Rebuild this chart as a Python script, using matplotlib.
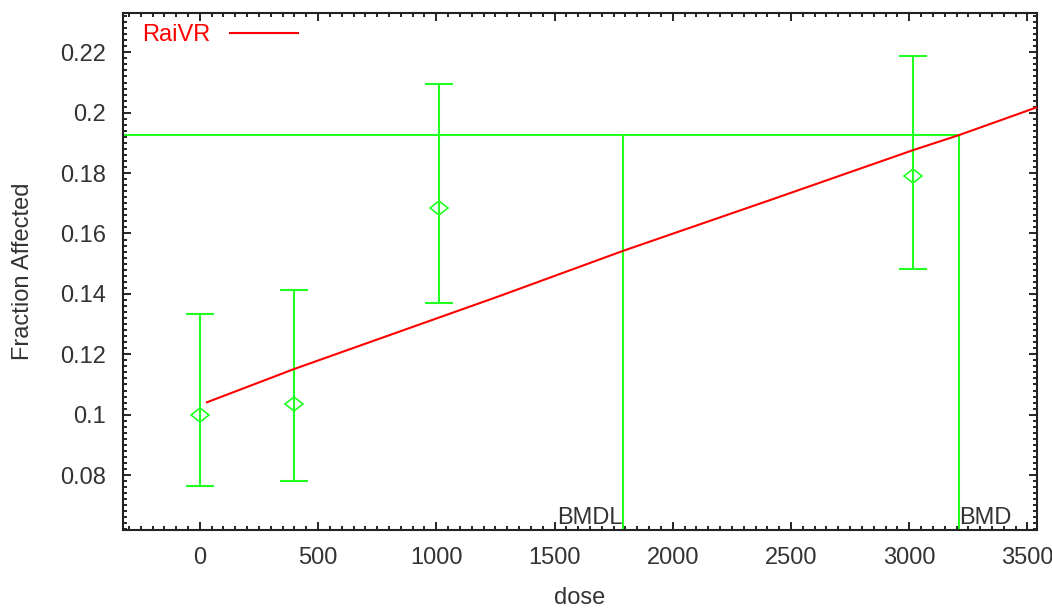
import matplotlib
matplotlib.use('Agg')
import matplotlib.pyplot as plt
from matplotlib.markers import MarkerStyle
from matplotlib.transforms import Affine2D
from matplotlib.ticker import MultipleLocator

dose = [0, 400, 1010, 3015]
frac = [0.0999, 0.1035, 0.1683, 0.1790]
err_lo = [0.0763, 0.0782, 0.1369, 0.1482]
err_hi = [0.1333, 0.1413, 0.2094, 0.2187]

# fitted model curve
fit_dose = [30, 398, 1268, 1788, 2409, 3016, 3211, 3540]
fit_frac = [0.1041, 0.1151, 0.1393, 0.1542, 0.1710, 0.1876, 0.1926, 0.2018]

bmr_level = 0.1927
bmdl = 1790
bmd = 3212

xlim = (-325, 3540)
ylim = (0.0618, 0.2330)

text_col = '#333333'
green = '#22ff22'
plt.rcParams['font.family'] = ['Liberation Sans', 'DejaVu Sans']


def main():
    fig = plt.figure(figsize=(10.52, 6.10), dpi=100)
    ax = fig.add_axes([0.1169, 0.1311, 0.8688, 0.8475])

    # fitted curve
    ax.plot(fit_dose, fit_frac, color='#ff0000', lw=1.5, label='RaiVR', zorder=3)

    # data with error bars
    lower = [f - l for f, l in zip(frac, err_lo)]
    upper = [h - f for f, h in zip(frac, err_hi)]
    mk = MarkerStyle('D', fillstyle='none', transform=Affine2D().scale(1.35, 1.0))
    ax.errorbar(dose, frac, yerr=[lower, upper], fmt='none', ecolor=green,
                elinewidth=1.5, capsize=10, capthick=1.5, zorder=2)
    ax.plot(dose, frac, linestyle='none', marker=mk, markersize=7,
            markeredgecolor=green, markerfacecolor='none', markeredgewidth=1.2, zorder=4)

    # BMD / BMDL lines
    ax.plot([xlim[0], bmd], [bmr_level, bmr_level], color=green, lw=1.5, zorder=2)
    ax.plot([bmdl, bmdl], [ylim[0], bmr_level], color=green, lw=1.5, zorder=2)
    ax.plot([bmd, bmd], [ylim[0], bmr_level], color=green, lw=1.5, zorder=2)
    ax.text(bmdl, ylim[0] + 0.0003, 'BMDL', ha='right', va='bottom', fontsize=17, color=text_col)
    ax.text(bmd, ylim[0] + 0.0003, 'BMD', ha='left', va='bottom', fontsize=17, color=text_col)

    ax.set_xlim(*xlim)
    ax.set_ylim(*ylim)
    ax.xaxis.set_minor_locator(MultipleLocator(50))
    ax.yaxis.set_minor_locator(MultipleLocator(0.002))
    ax.set_xticks([0, 500, 1000, 1500, 2000, 2500, 3000, 3500])
    ax.set_xticklabels(['0', '500', '1000', '1500', '2000', '2500', '3000', '3500'])
    ax.set_yticks([0.08, 0.1, 0.12, 0.14, 0.16, 0.18, 0.2, 0.22])
    ax.set_yticklabels(['0.08', '0.1', '0.12', '0.14', '0.16', '0.18', '0.2', '0.22'])

    ax.tick_params(which='both', direction='in', top=True, right=True,
                   labelsize=17, labelcolor=text_col, width=1.2)
    ax.tick_params(which='major', length=6)
    ax.tick_params(which='minor', length=3)
    ax.tick_params(axis='x', pad=12)
    ax.tick_params(axis='y', pad=12)
    for s in ax.spines.values():
        s.set_linewidth(1.5)
        s.set_color('#222222')

    ax.set_xlabel('dose', fontsize=17, color=text_col, labelpad=13)
    ax.set_ylabel('Fraction Affected', fontsize=17, color=text_col, labelpad=19)

    leg = ax.legend(loc='upper left', frameon=False, markerfirst=False,
                    fontsize=17, handlelength=2.9, borderaxespad=0.0,
                    bbox_to_anchor=(0.011, 0.997))
    for t in leg.get_texts():
        t.set_color('#ff0000')

    fig.savefig('out.png', dpi=100)
    plt.close(fig)


if __name__ == "__main__":
    main()
